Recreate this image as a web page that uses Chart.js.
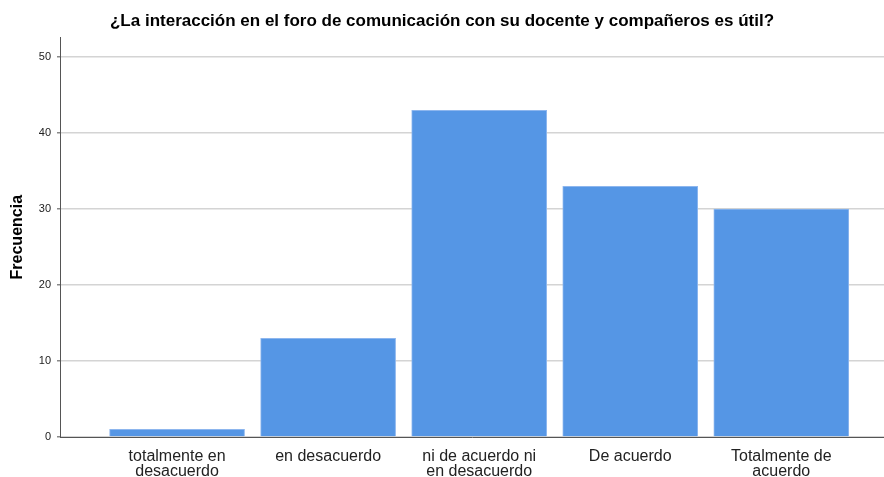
<html>
    <head>
        <title>Foro de comunicación</title>
        <meta charset="utf-8" />
        <script src="https://cdn.jsdelivr.net/npm/chart.js"></script>
        <style>
            body { margin: 0; background: white; }
            #wrap { width: 884px; height: 477px; }
        </style>
    </head>
    <body>
        <div id="wrap"><canvas id="myChart" width="884" height="477"></canvas></div>
        <script>
            const categorias = [
                ["totalmente en", "desacuerdo"],
                "en desacuerdo",
                ["ni de acuerdo ni", "en desacuerdo"],
                "De acuerdo",
                ["Totalmente de", "acuerdo"]
            ];
            const frecuencias = [1, 13, 43, 33, 30];
            const yTicks = [0, 10, 20, 30, 40, 50];

            const puntos = frecuencias.map((v, i) => ({ x: i, y: v }));

            const ctx = document.getElementById('myChart').getContext('2d');
            const myChart = new Chart(ctx, {
                type: 'bar',
                data: {
                    datasets: [{
                        data: puntos,
                        backgroundColor: "#5596e5",
                        borderColor: "#8db6ee",
                        borderWidth: 1,
                        barThickness: 135
                    }]
                },
                options: {
                    responsive: false,
                    animation: false,
                    layout: { padding: { right: 0, left: 0, top: 0, bottom: 0 } },
                    plugins: {
                        legend: { display: false },
                        tooltip: { enabled: false },
                        title: {
                            display: true,
                            text: "¿La interacción en el foro de comunicación con su docente y compañeros es útil?",
                            color: "#000",
                            font: { family: "Liberation Sans", size: 17, weight: "bold" },
                            padding: { top: 11, bottom: 6 }
                        }
                    },
                    scales: {
                        x: {
                            type: 'linear',
                            offset: false,
                            min: -0.775,
                            max: 4.68,
                            afterBuildTicks: (axis) => { axis.ticks = categorias.map((_, i) => ({ value: i })); },
                            afterFit: (axis) => { axis.height = 40; },
                            ticks: {
                                autoSkip: false,
                                maxRotation: 0,
                                padding: 12,
                                color: "#222",
                                font: { family: "Liberation Sans", size: 16, lineHeight: 0.95 },
                                callback: (v) => categorias[v]
                            },
                            grid: { display: false, drawTicks: false },
                            border: { color: "#555", width: 1 }
                        },
                        y: {
                            min: 0,
                            max: 52.6,
                            afterBuildTicks: (axis) => { axis.ticks = yTicks.map(v => ({ value: v })); },
                            afterFit: (axis) => { axis.width = 60; },
                            ticks: {
                                color: "#222",
                                padding: 6,
                                font: { family: "Liberation Sans", size: 11 }
                            },
                            grid: {
                                color: "#d4d4d4",
                                lineWidth: 1.5,
                                tickLength: 3,
                                tickColor: "#888"
                            },
                            border: { color: "#555", width: 1 },
                            title: {
                                display: true,
                                text: "Frecuencia",
                                color: "#000",
                                font: { family: "Liberation Sans", size: 16, weight: "bold" },
                                padding: { top: 8, bottom: 0 }
                            }
                        }
                    }
                }
            });
        </script>
    </body>
</html>
